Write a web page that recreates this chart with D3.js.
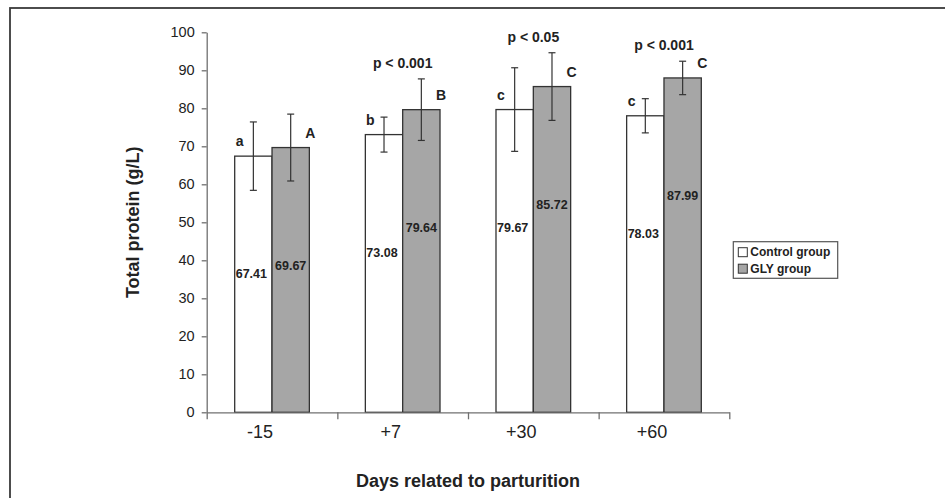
<!DOCTYPE html>
<html>
<head>
<meta charset="utf-8">
<script src="https://cdn.jsdelivr.net/npm/d3@7"></script>
<style>
  body { margin: 0; background: #fff; }
  svg { display: block; font-family: "Liberation Sans", Arial, sans-serif; }
</style>
</head>
<body>
<svg id="chart"></svg>
<script>
var width = 945,
    height = 498;

// data
var days = ["-15", "+7", "+30", "+60"];
var groups = ["Control group", "GLY group"];
var control = [67.41, 73.08, 79.67, 78.03];
var gly = [69.67, 79.64, 85.72, 87.99];
var controlSD = [9.0, 4.6, 11.0, 4.5];
var glySD = [8.8, 8.1, 8.9, 4.4];
var controlLetters = ["a", "b", "c", "c"];
var glyLetters = ["A", "B", "C", "C"];
var pLabels = ["", "p < 0.001", "p < 0.05", "p < 0.001"];
var yTicks = [0, 10, 20, 30, 40, 50, 60, 70, 80, 90, 100];

var margin = {top: 32.3, left: 206.7, right: 215.7, bottom: 85.7};
var x0 = margin.left, x1 = width - margin.right,
    yTop = margin.top, yBot = height - margin.bottom;

var fills = ["#ffffff", "#a6a6a6"];
var ink = "#222";

var svg = d3.select("#chart").attr("width", width).attr("height", height);

// outer frame of the figure (runs off right / bottom)
svg.append("rect")
   .attr("x", 10).attr("y", 8)
   .attr("width", 980).attr("height", 540)
   .attr("fill", "none")
   .attr("stroke", "#3a3a3a")
   .attr("stroke-width", 1.8);

var x = d3.scaleBand().domain(days).range([x0, x1]);
var xg = d3.scaleBand().domain(groups).range([0, x.bandwidth()])
           .paddingInner(0).paddingOuter(0.75);
var y = d3.scaleLinear().domain([0, 100]).range([yBot, yTop]);

// rows: one per bar
var rows = [];
days.forEach(function(d, i) {
    rows.push({day: d, group: groups[0], value: control[i], sd: controlSD[i], letter: controlLetters[i], k: 0});
    rows.push({day: d, group: groups[1], value: gly[i], sd: glySD[i], letter: glyLetters[i], k: 1});
});

// bars
var bar = svg.append("g").selectAll("g")
    .data(rows)
    .join("g")
    .attr("transform", d => `translate(${x(d.day) + xg(d.group)},0)`);

bar.append("rect")
   .attr("y", d => y(d.value))
   .attr("width", xg.bandwidth())
   .attr("height", d => y(0) - y(d.value))
   .attr("fill", d => fills[d.k])
   .attr("stroke", "#333")
   .attr("stroke-width", 1.3);

// value labels inside bars
bar.append("text")
   .attr("x", d => xg.bandwidth() / 2 - (d.k === 0 ? 2 : 0))
   .attr("y", d => y(d.value) + 122)
   .attr("text-anchor", "middle")
   .attr("font-size", 12.5)
   .attr("font-weight", "bold")
   .attr("fill", ink)
   .text(d => d.value.toFixed(2));

// error bars
var cap = 3.5;
var err = bar.append("g")
   .attr("stroke", "#333")
   .attr("stroke-width", 1.2)
   .attr("transform", `translate(${xg.bandwidth() / 2},0)`);
err.append("line")
   .attr("y1", d => y(d.value + d.sd))
   .attr("y2", d => y(d.value - d.sd));
err.append("line")
   .attr("x1", -cap).attr("x2", cap)
   .attr("y1", d => y(d.value + d.sd)).attr("y2", d => y(d.value + d.sd));
err.append("line")
   .attr("x1", -cap).attr("x2", cap)
   .attr("y1", d => y(d.value - d.sd)).attr("y2", d => y(d.value - d.sd));

// significance letters
bar.append("text")
   .attr("x", d => d.k === 0 ? 5 : xg.bandwidth() + 1)
   .attr("y", d => y(d.value) - 10)
   .attr("text-anchor", "middle")
   .attr("font-size", 14)
   .attr("font-weight", "bold")
   .attr("fill", ink)
   .text(d => d.letter);

// p-value labels above each pair
svg.append("g").selectAll("text")
   .data(days)
   .join("text")
   .attr("x", d => x(d) + x.bandwidth() / 2)
   .attr("y", (d, i) => y(Math.max(control[i] + controlSD[i], gly[i] + glySD[i])) - 11)
   .attr("text-anchor", "middle")
   .attr("font-size", 14)
   .attr("font-weight", "bold")
   .attr("fill", ink)
   .text((d, i) => pLabels[i]);

// y axis
var yAxis = svg.append("g")
   .attr("transform", `translate(${x0},0)`)
   .call(d3.axisLeft(y).tickValues(yTicks).tickSize(5).tickPadding(7).tickSizeOuter(0));
yAxis.attr("font-size", null).attr("font-family", null);
yAxis.selectAll("text").style("font-size", "14.5px").attr("fill", ink);
yAxis.selectAll("line, path").attr("stroke", "#707070").attr("stroke-width", 1.3);

// x axis: ticks on the category edges, labels under the categories
var xEdge = d3.scaleLinear().domain([0, days.length]).range([x0, x1]);
var xAxisEdge = svg.append("g")
   .attr("transform", `translate(0,${yBot})`)
   .call(d3.axisBottom(xEdge).ticks(days.length).tickFormat("").tickSize(7).tickSizeOuter(0));
xAxisEdge.selectAll("line, path").attr("stroke", "#707070").attr("stroke-width", 1.3);

var xAxis = svg.append("g")
   .attr("transform", `translate(0,${yBot})`)
   .call(d3.axisBottom(x).tickSize(0).tickPadding(13));
xAxis.attr("font-size", null).attr("font-family", null);
xAxis.select(".domain").remove();
xAxis.selectAll("text")
   .style("font-size", "18px")
   .attr("fill", ink)
   .attr("dx", -12);

// axis titles
svg.append("text")
   .attr("transform", `translate(139,${(yTop + yBot) / 2}) rotate(-90)`)
   .attr("text-anchor", "middle")
   .attr("font-size", 18)
   .attr("font-weight", "bold")
   .attr("fill", ink)
   .text("Total protein (g/L)");

svg.append("text")
   .attr("x", (x0 + x1) / 2)
   .attr("y", 487)
   .attr("text-anchor", "middle")
   .attr("font-size", 18)
   .attr("font-weight", "bold")
   .attr("fill", ink)
   .text("Days related to parturition");

// legend
var legend = svg.append("g").attr("transform", "translate(733.3,241.7)");
legend.append("rect")
   .attr("width", 104.4).attr("height", 36.6)
   .attr("fill", "#fff")
   .attr("stroke", "#555")
   .attr("stroke-width", 1.2);
var item = legend.selectAll("g.item")
   .data(groups)
   .join("g")
   .attr("class", "item")
   .attr("transform", (d, i) => `translate(5,${6 + i * 16.5})`);
item.append("rect")
   .attr("width", 9).attr("height", 9)
   .attr("fill", (d, i) => fills[i])
   .attr("stroke", "#333")
   .attr("stroke-width", 1);
item.append("text")
   .attr("x", 12)
   .attr("y", 8.5)
   .attr("font-size", 12)
   .attr("font-weight", "bold")
   .attr("fill", ink)
   .text(d => d);
</script>
</body>
</html>
